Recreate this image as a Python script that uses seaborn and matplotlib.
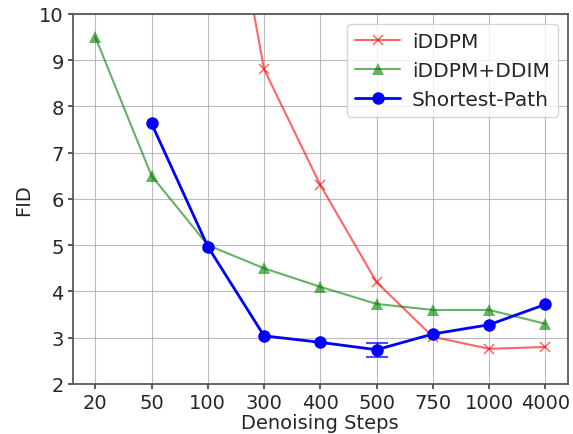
import numpy as np
import pandas as pd
import matplotlib
matplotlib.use('Agg')
import matplotlib.pyplot as plt
import seaborn as sns

# Data
steps = ['20', '50', '100', '300', '400', '500', '750', '1000', '4000']
iddpm = [np.nan, np.nan, 15.5, 8.8, 6.3, 4.2, 3.02, 2.76, 2.8]
iddpm_ddim = [9.5, 6.5, 5.0, 4.5, 4.1, 3.73, 3.6, 3.6, 3.3]
shortest_path = [np.nan, 7.63, 4.97, 3.04, 2.9, 2.74, 3.08, 3.28, 3.72]
shortest_path_err = [np.nan, np.nan, np.nan, np.nan, np.nan, 0.15, np.nan, np.nan, np.nan]

sns.set_theme(style='ticks')
plt.rcParams['font.family'] = ['DejaVu Sans']

fig, ax = plt.subplots(figsize=(5.73, 4.35), dpi=100)
fig.subplots_adjust(left=0.127, right=0.991, top=0.966, bottom=0.115)

x = np.arange(len(steps))
df = pd.DataFrame({'x': x, 'iDDPM': iddpm, 'iDDPM+DDIM': iddpm_ddim,
                   'Shortest-Path': shortest_path, 'err': shortest_path_err})

sns.lineplot(data=df, x='x', y='iDDPM', ax=ax, color='red', alpha=0.6,
             marker='x', markersize=7, markeredgecolor='red', markeredgewidth=1.1,
             linewidth=1.5, label='iDDPM', sort=False)
sns.lineplot(data=df, x='x', y='iDDPM+DDIM', ax=ax, color='green', alpha=0.6,
             marker='^', markersize=8, markeredgewidth=0, linewidth=1.5,
             label='iDDPM+DDIM', sort=False)
sns.lineplot(data=df, x='x', y='Shortest-Path', ax=ax, color='blue',
             marker='o', markersize=9, markeredgewidth=0, linewidth=2,
             label='Shortest-Path', sort=False)

e = df.dropna(subset=['err'])
ax.errorbar(e['x'], e['Shortest-Path'], yerr=e['err'], fmt='none',
            ecolor='blue', elinewidth=1.5, capsize=8, capthick=1.5, alpha=0.7)

ax.set_xticks(x)
ax.set_xticklabels(steps)
ax.set_xlim(-0.4, len(steps) - 0.6)
ax.set_ylim(2, 10)
ax.set_yticks(range(2, 11))
ax.grid(True, color='#a0a0a0', linewidth=0.8, alpha=0.7)
ax.tick_params(labelsize=14, length=3.5, color='#444444', pad=3)
for s in ax.spines.values():
    s.set_color('#555555')
ax.set_xlabel('Denoising Steps', fontsize=14, labelpad=1)
ax.set_ylabel('FID', fontsize=14)
ax.legend(loc='upper right', fontsize=14.5, framealpha=0.8, borderaxespad=0.5,
          handlelength=2.2, handletextpad=0.6)

fig.savefig('out.png', dpi=100)
